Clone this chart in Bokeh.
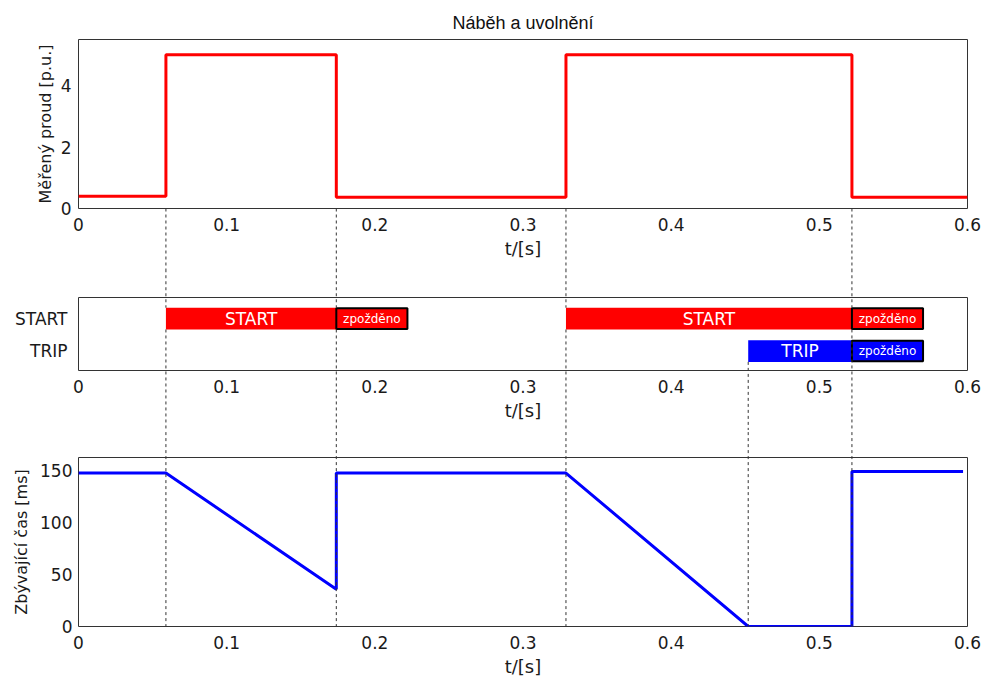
from bokeh.plotting import figure
from bokeh.layouts import column
from bokeh.models import FixedTicker, Range1d
from bokeh.core.properties import value
from bokeh.embed import file_html
from bokeh.resources import INLINE

# ---------------- data ----------------
t_current = [0.0, 0.059, 0.059, 0.174, 0.174, 0.329, 0.329, 0.522, 0.522, 0.6]
current = [0.4, 0.4, 5.0, 5.0, 0.37, 0.37, 5.0, 5.0, 0.37, 0.37]

start_begin = [0.059, 0.329]
start_end = [0.174, 0.522]
trip_begin = [0.452]
trip_end = [0.522]
delay_length = 0.048

t_remaining = [0.0, 0.059, 0.174, 0.174, 0.329, 0.452, 0.522, 0.522, 0.597]
remaining = [148, 148, 36, 148, 148, 0, 0, 149.5, 149.5]

x_ticks = [0, 0.1, 0.2, 0.3, 0.4, 0.5, 0.6]
x_tick_labels = ["0", "0.1", "0.2", "0.3", "0.4", "0.5", "0.6"]
row_names = ["TRIP", "START"]
row_pos = [1, 2]

title_text = "Náběh a uvolnění"
xlabel = "t/[s]"
ylabel_top = "Měřený proud [p.u.]"
ylabel_bottom = "Zbývající čas [ms]"

FONT = "DejaVu Sans"
RED = "#ff0000"
BLUE = "#0000ff"
BAR_H = 0.67

events = sorted(set(start_begin + start_end))


def make_fig(height, top, bottom, y_range):
    p = figure(width=986, height=height, x_range=Range1d(0, 0.6), y_range=y_range,
               output_backend="svg", toolbar_location=None,
               min_border_left=78, min_border_right=19,
               min_border_top=top, min_border_bottom=bottom)
    p.xgrid.visible = False
    p.ygrid.visible = False
    p.outline_line_color = "#333333"
    p.outline_line_width = 1
    p.background_fill_color = "white"
    p.border_fill_color = "white"
    for ax in (p.xaxis[0], p.yaxis[0]):
        ax.axis_line_color = None
        ax.major_tick_line_color = None
        ax.minor_tick_line_color = None
        ax.major_tick_out = 0
        ax.major_tick_in = 0
        ax.major_label_text_font = FONT
        ax.major_label_text_font_size = "17px"
        ax.major_label_text_color = "#1a1a1a"
        ax.axis_label_text_font = FONT
        ax.axis_label_text_font_style = "normal"
        ax.axis_label_text_color = "#1a1a1a"
    xa = p.xaxis[0]
    xa.ticker = FixedTicker(ticks=x_ticks)
    xa.major_label_overrides = dict(zip(x_ticks, x_tick_labels))
    xa.major_label_standoff = 9
    xa.axis_label = xlabel
    xa.axis_label_text_font_size = "18px"
    xa.axis_label_standoff = 4
    return p


# ---------------- top: current ----------------
p1 = make_fig(270, 39, 62, Range1d(0, 5.5))
p1.title.text = title_text
p1.title.align = "center"
p1.title.text_font = "Liberation Sans"
p1.title.text_font_size = "18px"
p1.title.text_font_style = "normal"
p1.title.text_color = "#111111"
p1.title.standoff = 14
p1.yaxis[0].ticker = FixedTicker(ticks=[0, 2, 4])
p1.yaxis[0].axis_label = ylabel_top
p1.yaxis[0].axis_label_text_font_size = "16px"
p1.yaxis[0].major_label_standoff = 7
p1.yaxis[0].axis_label_standoff = 3
p1.segment(x0=events, x1=events, y0=[0] * len(events), y1=[-10] * len(events),
           line_color="#333333", line_width=1, line_dash="3 3", level="overlay")
p1.line(t_current, current, line_color=RED, line_width=3)

# ---------------- middle: START / TRIP ----------------
p2 = make_fig(160, 27, 60, Range1d(0.4, 2.65))
ya = p2.yaxis[0]
ya.ticker = FixedTicker(ticks=row_pos)
ya.major_label_overrides = dict(zip(row_pos, row_names))
ya.major_label_standoff = 11
ya.major_label_text_font_size = "17px"

start_y = row_pos[row_names.index("START")]
trip_y = row_pos[row_names.index("TRIP")]

# dashed event lines, interrupted by the bars
seg_x, seg_y0, seg_y1 = [], [], []
for e in events:
    seg_x += [e, e]
    seg_y0 += [5, start_y - BAR_H / 2]
    seg_y1 += [start_y + BAR_H / 2, -5]
for e in trip_begin:
    seg_x.append(e)
    seg_y0.append(trip_y - BAR_H / 2)
    seg_y1.append(-5)
p2.segment(x0=seg_x, x1=seg_x, y0=seg_y0, y1=seg_y1,
           line_color="#333333", line_width=1, line_dash="3 3", level="overlay")

p2.hbar(y=[start_y] * len(start_begin), left=start_begin, right=start_end,
        height=BAR_H, fill_color=RED, line_color=None)
p2.hbar(y=[trip_y] * len(trip_begin), left=trip_begin, right=trip_end,
        height=BAR_H, fill_color=BLUE, line_color=None)
p2.hbar(y=[start_y] * len(start_end), left=start_end,
        right=[e + delay_length for e in start_end],
        height=BAR_H * 0.95, fill_color=RED, line_color="black", line_width=2)
p2.hbar(y=[trip_y] * len(trip_end), left=trip_end,
        right=[e + delay_length for e in trip_end],
        height=BAR_H * 0.95, fill_color=BLUE, line_color="black", line_width=2)

p2.text(x=[(a + b) / 2 for a, b in zip(start_begin, start_end)],
        y=[start_y] * len(start_begin), text=["START"] * len(start_begin),
        text_align="center", text_baseline="middle", text_color="white",
        text_font=value(FONT), text_font_size="17px")
p2.text(x=[(a + b) / 2 for a, b in zip(trip_begin, trip_end)],
        y=[trip_y] * len(trip_begin), text=["TRIP"] * len(trip_begin),
        text_align="center", text_baseline="middle", text_color="white",
        text_font=value(FONT), text_font_size="17px")
d_x = [e + delay_length / 2 for e in start_end] + [e + delay_length / 2 for e in trip_end]
d_y = [start_y] * len(start_end) + [trip_y] * len(trip_end)
p2.text(x=d_x, y=d_y, text=["zpožděno"] * len(d_x),
        text_align="center", text_baseline="middle", text_color="white",
        text_font=value(FONT), text_font_size="12px")

# ---------------- bottom: remaining time ----------------
p3 = make_fig(251, 27, 55, Range1d(0, 163))
p3.yaxis[0].ticker = FixedTicker(ticks=[0, 50, 100, 150])
p3.yaxis[0].axis_label = ylabel_bottom
p3.yaxis[0].axis_label_text_font_size = "16px"
p3.yaxis[0].major_label_standoff = 6
p3.yaxis[0].axis_label_standoff = 6
all_ev = sorted(set(events + trip_begin))
p3.segment(x0=all_ev, x1=all_ev, y0=[500] * len(all_ev), y1=[0] * len(all_ev),
           line_color="#333333", line_width=1, line_dash="3 3", level="overlay")
p3.line(t_remaining, remaining, line_color=BLUE, line_width=3)

layout = column(p1, p2, p3, spacing=0)
open("out.html", "w").write(file_html(layout, INLINE))
